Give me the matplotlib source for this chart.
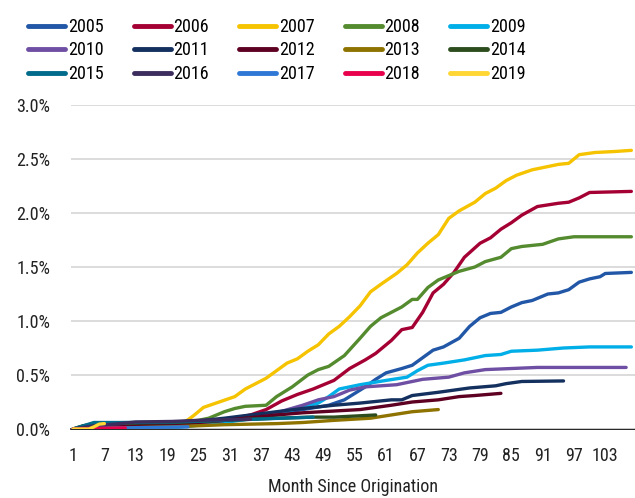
import matplotlib
matplotlib.use("Agg")
import matplotlib.pyplot as plt
from matplotlib.ticker import FuncFormatter
import logging
logging.getLogger('matplotlib.font_manager').setLevel(logging.ERROR)

plt.rcParams['font.family'] = ['Roboto Condensed', 'Liberation Sans Narrow', 'Roboto', 'DejaVu Sans']

years = ["2005", "2006", "2007", "2008", "2009", "2010", "2011", "2012",
         "2013", "2014", "2015", "2016", "2017", "2018", "2019"]
colors = ["#2157A6", "#A50034", "#F5C300", "#558B2F", "#00AEE8", "#6E4FA3",
          "#14305F", "#5E0022", "#8E7300", "#2E4D1E", "#006B8A", "#3D2D5E",
          "#2F78D6", "#E8004C", "#FFD633"]

m2005 = [1, 20, 30, 40, 45, 50, 53, 55, 57, 59, 61, 64, 66, 68, 70, 72, 75, 77, 79, 81, 83, 85, 87, 89, 92, 94, 96, 98, 100, 102, 103, 108]
v2005 = [0, 0.02, 0.07, 0.14, 0.18, 0.22, 0.27, 0.33, 0.39, 0.46, 0.52, 0.56, 0.59, 0.66, 0.73, 0.76, 0.84, 0.95, 1.03, 1.07, 1.08, 1.13, 1.17, 1.19, 1.25, 1.26, 1.29, 1.36, 1.39, 1.41, 1.44, 1.45]

m2006 = [1, 10, 20, 30, 35, 38, 41, 44, 47, 51, 54, 57, 59, 62, 64, 66, 68, 70, 72, 74, 76, 79, 81, 83, 85, 87, 90, 94, 96, 98, 100, 108]
v2006 = [0, 0.01, 0.03, 0.08, 0.13, 0.18, 0.26, 0.32, 0.37, 0.45, 0.56, 0.64, 0.70, 0.82, 0.92, 0.94, 1.08, 1.26, 1.34, 1.45, 1.59, 1.72, 1.77, 1.85, 1.91, 1.98, 2.06, 2.09, 2.10, 2.14, 2.19, 2.20]

m2007 = [1, 20, 22, 24, 26, 29, 32, 34, 38, 40, 42, 44, 46, 48, 50, 52, 54, 56, 58, 60, 63, 65, 67, 69, 71, 73, 75, 78, 80, 82, 84, 86, 89, 92, 94, 96, 97, 98, 101, 105, 108]
v2007 = [0, 0.0, 0.05, 0.12, 0.20, 0.25, 0.30, 0.37, 0.47, 0.54, 0.61, 0.65, 0.72, 0.78, 0.88, 0.95, 1.04, 1.14, 1.27, 1.34, 1.44, 1.52, 1.63, 1.72, 1.80, 1.95, 2.02, 2.10, 2.18, 2.23, 2.30, 2.35, 2.40, 2.43, 2.45, 2.46, 2.50, 2.54, 2.56, 2.57, 2.58]

m2008 = [1, 3, 10, 20, 25, 27, 30, 32, 34, 38, 40, 43, 46, 48, 50, 53, 56, 58, 60, 62, 64, 66, 67, 69, 71, 73, 75, 78, 80, 83, 85, 87, 91, 94, 97, 108]
v2008 = [0, 0.03, 0.05, 0.06, 0.08, 0.10, 0.16, 0.19, 0.21, 0.22, 0.30, 0.39, 0.50, 0.55, 0.58, 0.68, 0.84, 0.95, 1.03, 1.08, 1.13, 1.20, 1.20, 1.31, 1.38, 1.42, 1.46, 1.50, 1.55, 1.59, 1.67, 1.69, 1.71, 1.76, 1.78, 1.78]

m2009 = [1, 20, 30, 40, 44, 48, 50, 52, 54, 56, 61, 65, 67, 69, 72, 76, 80, 83, 85, 90, 95, 100, 108]
v2009 = [0, 0.01, 0.06, 0.13, 0.19, 0.24, 0.30, 0.37, 0.39, 0.41, 0.45, 0.48, 0.54, 0.59, 0.61, 0.64, 0.68, 0.69, 0.72, 0.73, 0.75, 0.76, 0.76]

m2010 = [1, 20, 30, 40, 45, 48, 51, 54, 57, 63, 66, 68, 73, 76, 80, 85, 90, 107]
v2010 = [0, 0.03, 0.08, 0.15, 0.22, 0.27, 0.30, 0.36, 0.39, 0.41, 0.44, 0.46, 0.48, 0.52, 0.55, 0.56, 0.57, 0.57]

m2011 = [1, 10, 20, 30, 40, 45, 51, 56, 62, 64, 66, 71, 77, 82, 84, 87, 95]
v2011 = [0, 0.02, 0.05, 0.10, 0.16, 0.19, 0.22, 0.24, 0.27, 0.27, 0.31, 0.34, 0.38, 0.40, 0.42, 0.44, 0.445]

m2012 = [1, 10, 20, 30, 40, 45, 56, 62, 66, 71, 75, 78, 83]
v2012 = [0, 0.02, 0.04, 0.08, 0.13, 0.15, 0.18, 0.22, 0.25, 0.27, 0.30, 0.31, 0.33]

m2013 = [1, 10, 20, 30, 40, 45, 51, 58, 62, 66, 71]
v2013 = [0, 0.01, 0.02, 0.04, 0.05, 0.06, 0.08, 0.10, 0.13, 0.16, 0.18]

m2014 = [1, 3, 5, 10, 20, 30, 40, 47, 51, 59]
v2014 = [0, 0.03, 0.05, 0.055, 0.06, 0.08, 0.10, 0.11, 0.11, 0.13]

m2015 = [1, 3, 5, 10, 20, 30, 41, 47]
v2015 = [0, 0.03, 0.06, 0.06, 0.065, 0.08, 0.10, 0.11]

m2016 = [1, 5, 10, 13, 20, 25, 30, 35]
v2016 = [0, 0.03, 0.05, 0.065, 0.07, 0.08, 0.085, 0.09]

m2017 = [1, 5, 11, 17, 23]
v2017 = [0, 0.005, 0.01, 0.015, 0.02]

m2018 = [1, 5, 11]
v2018 = [0, 0.005, 0.01]

m2019 = [1, 4, 5, 6, 7]
v2019 = [0, 0.0, 0.02, 0.045, 0.05]

months = [m2005, m2006, m2007, m2008, m2009, m2010, m2011, m2012, m2013, m2014, m2015, m2016, m2017, m2018, m2019]
values = [v2005, v2006, v2007, v2008, v2009, v2010, v2011, v2012, v2013, v2014, v2015, v2016, v2017, v2018, v2019]

xticks = list(range(1, 104, 6))
yticks = [0.0, 0.5, 1.0, 1.5, 2.0, 2.5, 3.0]

FS = 13
fig = plt.figure(figsize=(6.35, 4.98), dpi=100)
ax = fig.add_axes([71/635, 1 - 429/498, 1 - 71/635, (429 - 105)/498])

handles = []
for yr, c, mx, vy in zip(years, colors, months, values):
    h, = ax.plot(mx, vy, color=c, lw=2.4, solid_capstyle='round', solid_joinstyle='round', label=yr)
    handles.append(h)

ax.set_xlim(0.6, 108.7)
ax.set_ylim(0, 3.0)
ax.set_xticks(xticks)
ax.set_xticklabels([str(t) for t in xticks])
ax.set_yticks(yticks)
ax.yaxis.set_major_formatter(FuncFormatter(lambda v, p: f"{v:.1f}%"))
ax.grid(axis='y', color='#D9D9D9', lw=1.3)
ax.set_axisbelow(True)
for s in ['top', 'right', 'left']:
    ax.spines[s].set_visible(False)
ax.spines['bottom'].set_color('black')
ax.spines['bottom'].set_linewidth(1.2)
ax.spines['bottom'].set_zorder(0.5)
ax.tick_params(axis='both', length=0, labelsize=FS, colors='#222222')
ax.tick_params(axis='y', pad=15)
ax.tick_params(axis='x', pad=13)
ax.set_xlabel("Month Since Origination", fontsize=FS, color='#222222', labelpad=9)

order = [r * 5 + c for c in range(5) for r in range(3)]
leg = fig.legend([handles[i] for i in order], [years[i] for i in order],
                 ncol=5, loc='upper left', bbox_to_anchor=(28/635, 1 - 18/498),
                 frameon=False, fontsize=FS, handlelength=2.05, handletextpad=0.15,
                 columnspacing=1.67, labelspacing=0.3, borderaxespad=0, borderpad=0)
for lh in leg.get_lines():
    lh.set_linewidth(3.5)
    lh.set_solid_capstyle('round')

fig.savefig("out.png", dpi=100)
